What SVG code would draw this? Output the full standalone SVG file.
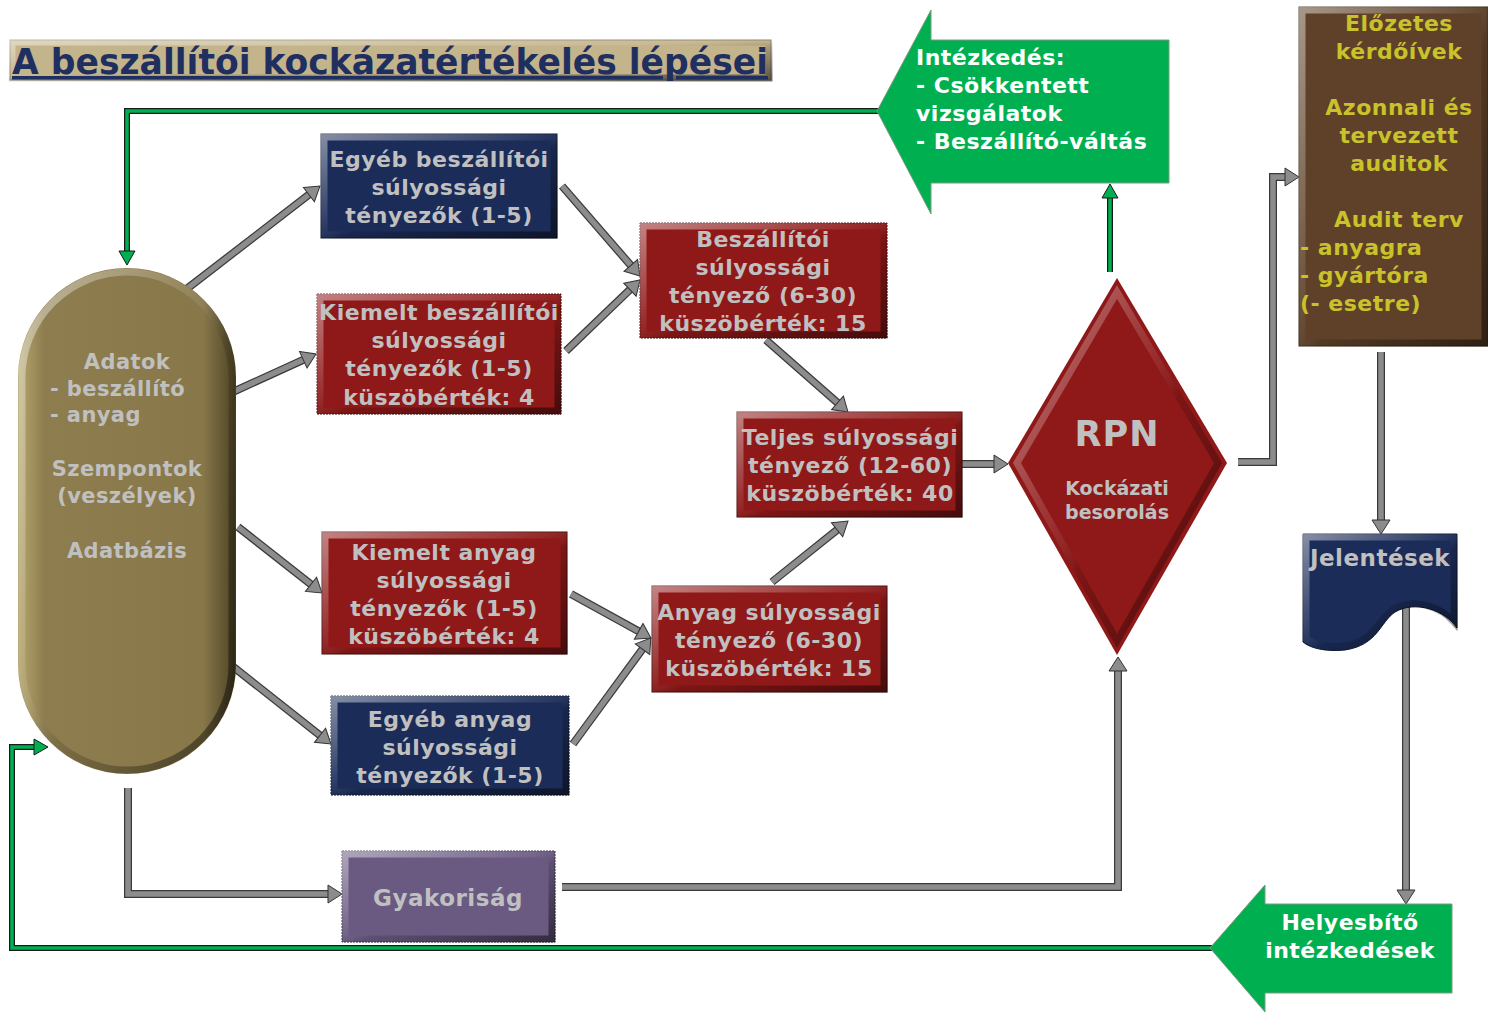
<svg xmlns="http://www.w3.org/2000/svg" width="1488" height="1013" viewBox="0 0 1488 1013">
<style>
text{font-family:"DejaVu Sans","Liberation Sans",sans-serif;font-weight:bold;}
.bt{fill:#c0c0c0;font-size:22px;letter-spacing:0.5px;text-anchor:middle;}
.ct{fill:#c0c0c0;font-size:21px;letter-spacing:0.4px;}
.mid{text-anchor:middle;}
.wt{fill:#ffffff;font-size:22px;letter-spacing:0.5px;}
.yt{fill:#c9c22a;font-size:22px;letter-spacing:0.5px;}
.bev{fill:none;stroke:url(#bevel);stroke-width:7;}
.so{fill:none;stroke:#3a3a3a;stroke-width:8;stroke-linejoin:miter;}
.si{fill:none;stroke:#8c8c8c;stroke-width:5.5;stroke-linejoin:miter;marker-end:url(#ag);}
.go{fill:none;stroke:#1a1a1a;stroke-width:6;stroke-linejoin:miter;}
.gi{fill:none;stroke:#00b050;stroke-width:3.5;stroke-linejoin:miter;marker-end:url(#agr);}
</style>
<defs>
<linearGradient id="bevel" x1="0" y1="0" x2="1" y2="1">
<stop offset="0" stop-color="#ffffff" stop-opacity="0.45"/>
<stop offset="0.45" stop-color="#ffffff" stop-opacity="0.08"/>
<stop offset="0.55" stop-color="#000000" stop-opacity="0.12"/>
<stop offset="1" stop-color="#000000" stop-opacity="0.5"/>
</linearGradient>
<linearGradient id="olive" x1="0" y1="0" x2="1" y2="0">
<stop offset="0" stop-color="#b5a66e"/>
<stop offset="0.12" stop-color="#8e7e4f"/>
<stop offset="0.85" stop-color="#877749"/>
<stop offset="1" stop-color="#4c4224"/>
</linearGradient>
<marker id="ag" viewBox="-1 -10 17 20" markerWidth="17" markerHeight="20" refX="0" refY="0" markerUnits="userSpaceOnUse" orient="auto">
<path d="M0,-9 L14,0 L0,9 Z" fill="#8c8c8c" stroke="#333333" stroke-width="1"/>
</marker>
<marker id="agr" viewBox="-1 -10 17 20" markerWidth="17" markerHeight="20" refX="0" refY="0" markerUnits="userSpaceOnUse" orient="auto">
<path d="M0,-8 L14,0 L0,8 Z" fill="#00b050" stroke="#1a1a1a" stroke-width="1"/>
</marker>
</defs>
<rect width="1488" height="1013" fill="#ffffff"/>

<g id="title">
<rect x="10" y="40" width="761" height="40" fill="#c4b48c" stroke="#8a8060" stroke-width="1"/>
<rect x="12" y="42" width="757" height="36" class="bev" stroke-width="3"/>
<text x="12" y="74" font-size="35" fill="#1f2f5f" textLength="756" lengthAdjust="spacingAndGlyphs" text-decoration="underline">A beszállítói kockázatértékelés lépései</text>
</g>

<g id="connectors">
<path class="so" d="M184,291 L308.9,194.6"/><path class="si" d="M184,291 L308.9,194.6"/>
<path class="so" d="M224,396 L303.3,359.8"/><path class="si" d="M224,396 L303.3,359.8"/>
<path class="so" d="M562,186 L630.8,265.4"/><path class="si" d="M562,186 L630.8,265.4"/>
<path class="so" d="M566,351 L629.9,289.7"/><path class="si" d="M566,351 L629.9,289.7"/>
<path class="so" d="M766,340 L837.5,402.8"/><path class="si" d="M766,340 L837.5,402.8"/>
<path class="so" d="M962,464 L994,464"/><path class="si" d="M962,464 L994,464"/>
<path class="so" d="M238,527 L311,584.3"/><path class="si" d="M238,527 L311,584.3"/>
<path class="so" d="M222,658 L320,735.3"/><path class="si" d="M222,658 L320,735.3"/>
<path class="so" d="M571,594 L638.7,631.3"/><path class="si" d="M571,594 L638.7,631.3"/>
<path class="so" d="M573,744 L642.5,649.2"/><path class="si" d="M573,744 L642.5,649.2"/>
<path class="so" d="M772,582 L837.1,529.8"/><path class="si" d="M772,582 L837.1,529.8"/>
<path class="so" d="M128,788 V894 H328"/><path class="si" d="M128,788 V894 H328"/>
<path class="so" d="M562,887 H1118 V671"/><path class="si" d="M562,887 H1118 V671"/>
<path class="so" d="M1238,462 H1273 V177 H1285"/><path class="si" d="M1238,462 H1273 V177 H1285"/>
<path class="so" d="M1381,352 V520"/><path class="si" d="M1381,352 V520"/>
<path class="so" d="M1406,598 V890"/><path class="si" d="M1406,598 V890"/>
<path class="go" d="M880,111 H127 V251"/><path class="gi" d="M880,111 H127 V251"/>
<path class="go" d="M1110,272 V198"/><path class="gi" d="M1110,272 V198"/>
<path class="go" d="M1212,948 H12 V747 H34"/><path class="gi" d="M1212,948 H12 V747 H34"/>
</g>

<g id="intezkedes">
<path d="M877,111 L931,10 V40 H1169 V183 H931 V214 Z" fill="#00b050" stroke="#7a9a80" stroke-width="1"/>
<text class="wt" x="916" y="65">Intézkedés:</text>
<text class="wt" x="916" y="93">- Csökkentett</text>
<text class="wt" x="916" y="121">vizsgálatok</text>
<text class="wt" x="916" y="149">- Beszállító-váltás</text>
</g>

<g id="audit">
<rect x="1299" y="7" width="189" height="339" fill="#5e4128" stroke="#3a2a18" stroke-width="1"/>
<rect x="1302" y="10" width="183" height="333" class="bev" stroke-width="8"/>
<text class="yt mid" x="1399" y="31">Előzetes</text>
<text class="yt mid" x="1399" y="59">kérdőívek</text>
<text class="yt mid" x="1399" y="115">Azonnali és</text>
<text class="yt mid" x="1399" y="143">tervezett</text>
<text class="yt mid" x="1399" y="171">auditok</text>
<text class="yt mid" x="1399" y="227">Audit terv</text>
<text class="yt" x="1300" y="255">- anyagra</text>
<text class="yt" x="1300" y="283">- gyártóra</text>
<text class="yt" x="1300" y="311">(- esetre)</text>
</g>

<g id="adatbazis">
<rect x="18" y="268" width="218" height="506" rx="109" ry="109" fill="url(#olive)"/>
<rect x="22" y="272" width="210" height="498" rx="105" ry="105" class="bev" stroke-width="8"/>
<text class="ct mid" x="127" y="369">Adatok</text>
<text class="ct" x="50" y="396">- beszállító</text>
<text class="ct" x="50" y="422">- anyag</text>
<text class="ct mid" x="127" y="476">Szempontok</text>
<text class="ct mid" x="127" y="503">(veszélyek)</text>
<text class="ct mid" x="127" y="558">Adatbázis</text>
</g>

<g id="egyeb-beszallitoi">
<rect x="321" y="134" width="236" height="104" fill="#1b2c58" stroke="#0d1630" stroke-width="1"/>
<rect x="324" y="137" width="230" height="98" class="bev" stroke-width="6"/>
<text class="bt" x="439" y="167">Egyéb beszállítói</text>
<text class="bt" x="439" y="195">súlyossági</text>
<text class="bt" x="439" y="223">tényezők (1-5)</text>
</g>

<g id="kiemelt-beszallitoi">
<rect x="317" y="294" width="244" height="120" fill="#8f1818" stroke="#4a0a0a" stroke-width="1" stroke-dasharray="2 1"/>
<rect x="320" y="297" width="238" height="114" class="bev" stroke-width="6"/>
<text class="bt" x="439" y="320">Kiemelt beszállítói</text>
<text class="bt" x="439" y="348">súlyossági</text>
<text class="bt" x="439" y="376">tényezők (1-5)</text>
<text class="bt" x="439" y="405">küszöbérték: 4</text>
</g>

<g id="beszallitoi">
<rect x="640" y="223" width="247" height="115" fill="#8f1818" stroke="#4a0a0a" stroke-width="1" stroke-dasharray="2 1"/>
<rect x="643" y="226" width="241" height="109" class="bev" stroke-width="6"/>
<text class="bt" x="763" y="247">Beszállítói</text>
<text class="bt" x="763" y="275">súlyossági</text>
<text class="bt" x="763" y="303">tényező (6-30)</text>
<text class="bt" x="763" y="331">küszöbérték: 15</text>
</g>

<g id="teljes">
<rect x="737" y="412" width="225" height="105" fill="#8f1818" stroke="#4a0a0a" stroke-width="1"/>
<rect x="740" y="415" width="219" height="99" class="bev" stroke-width="6"/>
<text class="bt" x="850" y="445">Teljes súlyossági</text>
<text class="bt" x="850" y="473">tényező (12-60)</text>
<text class="bt" x="850" y="501">küszöbérték: 40</text>
</g>

<g id="kiemelt-anyag">
<rect x="322" y="532" width="245" height="122" fill="#8f1818" stroke="#4a0a0a" stroke-width="1"/>
<rect x="325" y="535" width="239" height="116" class="bev" stroke-width="6"/>
<text class="bt" x="444" y="560">Kiemelt anyag</text>
<text class="bt" x="444" y="588">súlyossági</text>
<text class="bt" x="444" y="616">tényezők (1-5)</text>
<text class="bt" x="444" y="644">küszöbérték: 4</text>
</g>

<g id="egyeb-anyag">
<rect x="331" y="696" width="238" height="99" fill="#1b2c58" stroke="#0d1630" stroke-width="1" stroke-dasharray="2 1"/>
<rect x="334" y="699" width="232" height="93" class="bev" stroke-width="6"/>
<text class="bt" x="450" y="727">Egyéb anyag</text>
<text class="bt" x="450" y="755">súlyossági</text>
<text class="bt" x="450" y="783">tényezők (1-5)</text>
</g>

<g id="anyag">
<rect x="652" y="586" width="235" height="106" fill="#8f1818" stroke="#4a0a0a" stroke-width="1"/>
<rect x="655" y="589" width="229" height="100" class="bev" stroke-width="6"/>
<text class="bt" x="769" y="620">Anyag súlyossági</text>
<text class="bt" x="769" y="648">tényező (6-30)</text>
<text class="bt" x="769" y="676">küszöbérték: 15</text>
</g>

<g id="gyakorisag">
<rect x="342" y="851" width="213" height="91" fill="#6a5a82" stroke="#3a3048" stroke-width="1" stroke-dasharray="2 1"/>
<rect x="345" y="854" width="207" height="85" class="bev" stroke-width="6"/>
<text class="bt" x="448" y="906" style="font-size:23px">Gyakoriság</text>
</g>

<g id="rpn">
<polygon points="1117,278 1227,463 1117,655 1008,463" fill="#8f1818"/>
<polygon points="1117,292 1218,463 1117,641 1017,463" class="bev" stroke-width="12"/>
<text class="bt" x="1117" y="446" style="font-size:35px;letter-spacing:1px">RPN</text>
<text class="bt" x="1117" y="495" style="font-size:19px;letter-spacing:0px">Kockázati</text>
<text class="bt" x="1117" y="519" style="font-size:19px;letter-spacing:0px">besorolás</text>
</g>

<g id="jelentesek">
<path d="M1303,534 H1457 V628 C1445,610 1415,600 1395,612 C1380,622 1378,645 1345,650 C1325,652 1310,648 1303,642 Z" fill="#1b2c58" stroke="#0d1630" stroke-width="1"/>
<path d="M1306,537 H1454 V622 C1440,606 1414,598 1394,609 C1378,619 1375,642 1345,646 C1327,648 1313,644 1306,639 Z" class="bev" stroke-width="5"/>
<text class="bt" x="1380" y="566" style="font-size:23px">Jelentések</text>
</g>

<g id="helyesbito">
<path d="M1210,948 L1265,885 V904 H1452 V993 H1265 V1012 Z" fill="#00b050" stroke="#7a9a80" stroke-width="1"/>
<text class="wt mid" x="1350" y="930">Helyesbítő</text>
<text class="wt mid" x="1350" y="958">intézkedések</text>
</g>
</svg>
